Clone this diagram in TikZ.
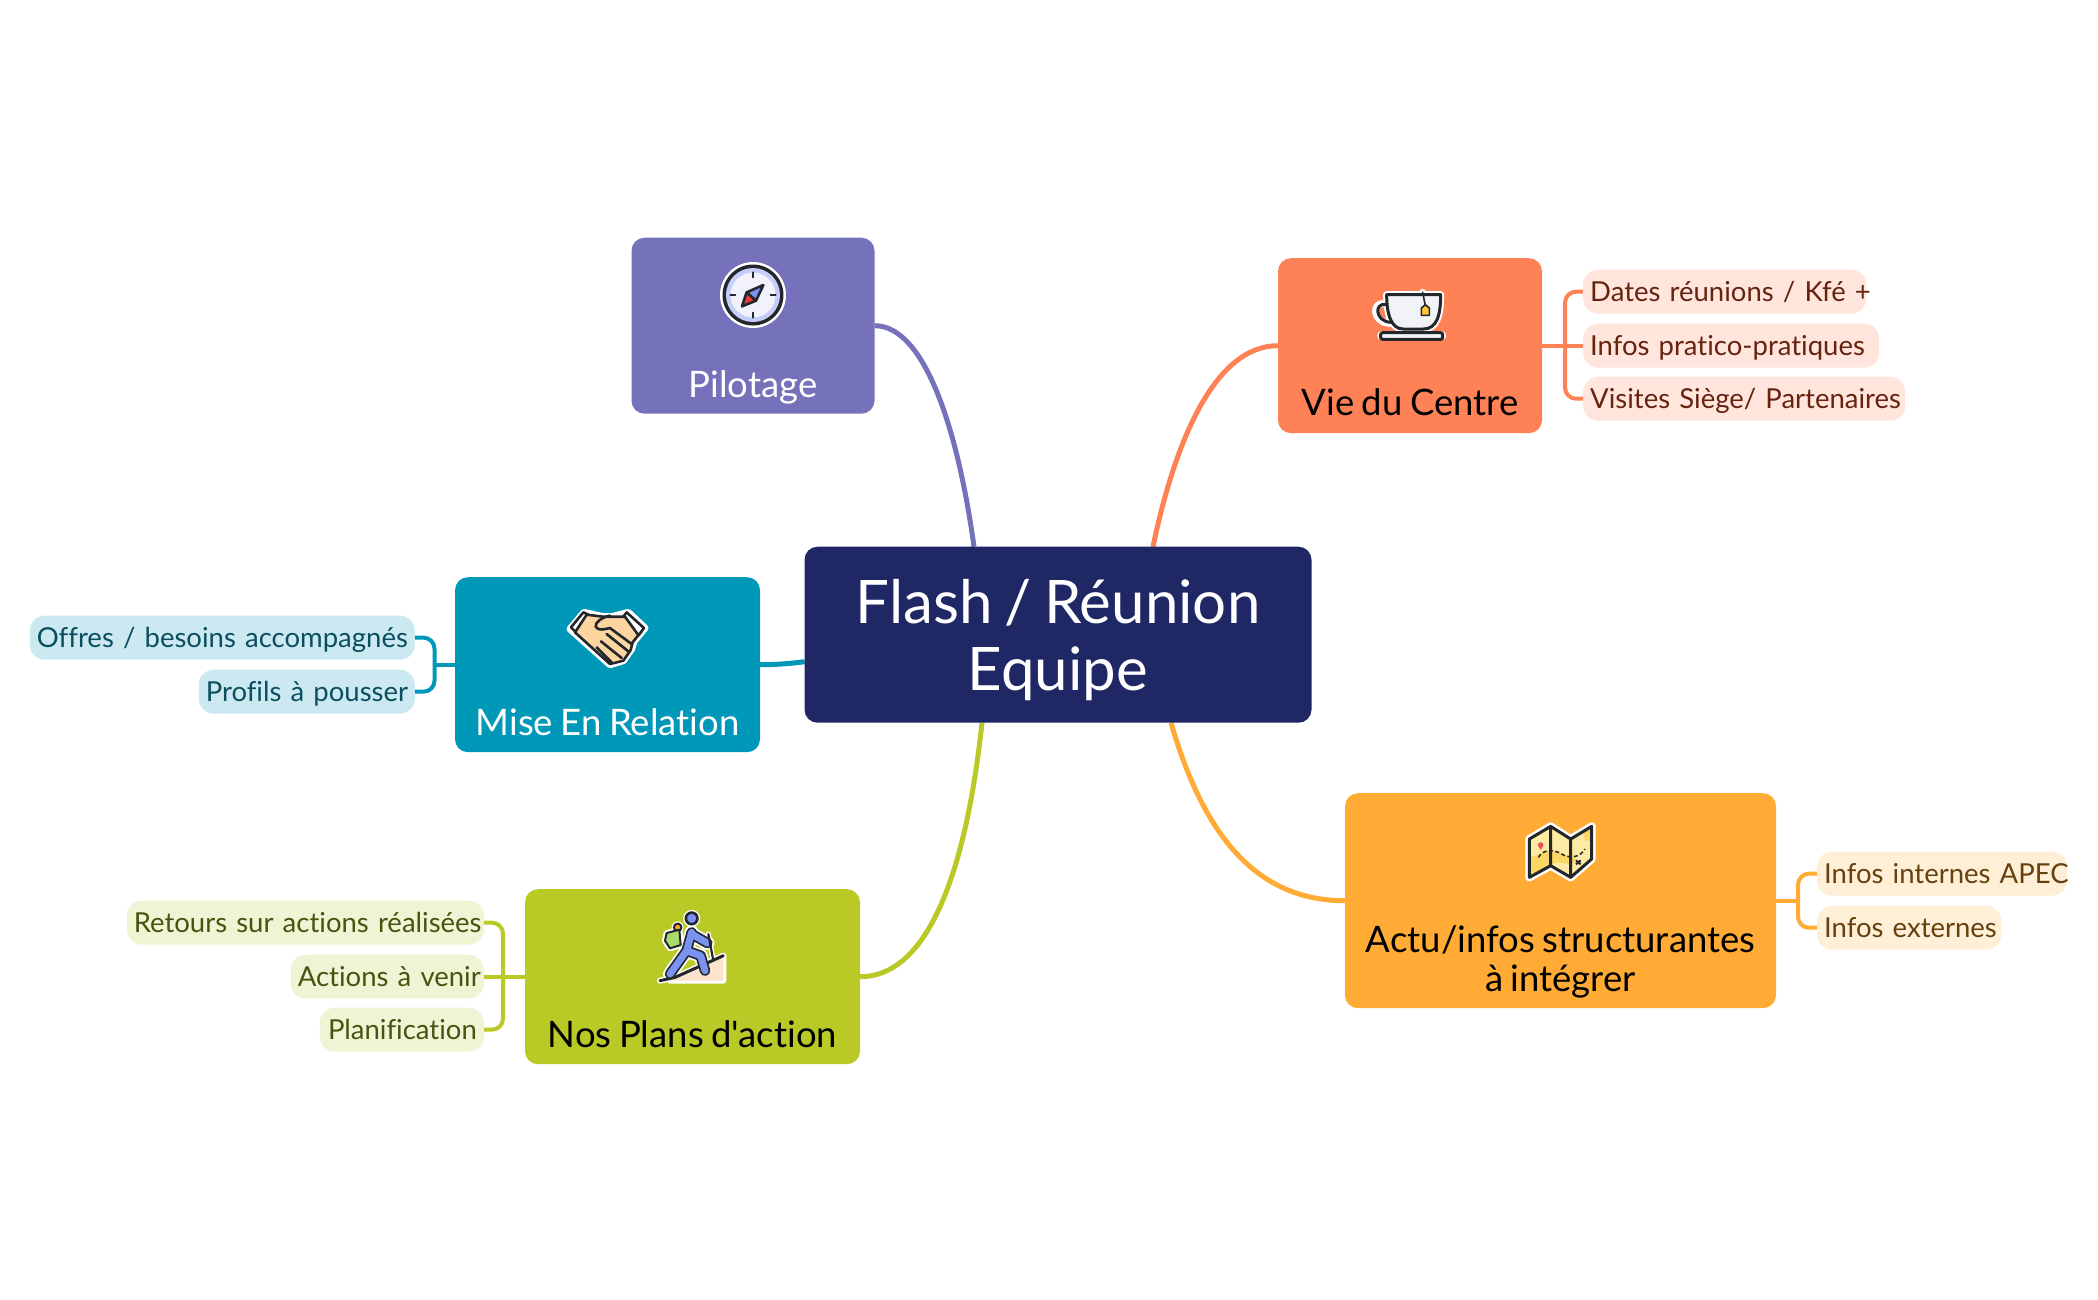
\documentclass[tikz,border=0pt]{standalone}
\usepackage{fontspec}
\setmainfont{Lato}[Ligatures={TeXOff,NoCommon},WordSpace=0.8]
\definecolor{cpil}{HTML}{7572BB}
\definecolor{cvie}{HTML}{FF8257}
\definecolor{cmis}{HTML}{0098B9}
\definecolor{cpla}{HTML}{B9CA26}
\definecolor{cact}{HTML}{FFAB36}
\definecolor{cctr}{HTML}{1F2765}
\definecolor{lvie}{HTML}{FFE5DC}
\definecolor{lmis}{HTML}{CCE9F1}
\definecolor{lpla}{HTML}{F1F4D4}
\definecolor{lact}{HTML}{FFEFD7}
\definecolor{tvie}{HTML}{662310}
\definecolor{tmis}{HTML}{0A4F60}
\definecolor{tpla}{HTML}{4A5210}
\definecolor{tact}{HTML}{66400F}
\definecolor{ink}{HTML}{23272B}
\definecolor{icring}{HTML}{C3CDF8}
\definecolor{icface}{HTML}{F2F2FD}
\definecolor{icblue}{HTML}{7B93F0}
\definecolor{icred}{HTML}{F03A3A}
\definecolor{iccup}{HTML}{F1F3F6}
\definecolor{ictag}{HTML}{FFC933}
\definecolor{icmap}{HTML}{FDEBA3}
\definecolor{icmap2}{HTML}{FBD766}
\definecolor{icpin}{HTML}{F0505A}
\definecolor{icgreen}{HTML}{A8DD6A}
\definecolor{icorange}{HTML}{FFA033}
\definecolor{icsand}{HTML}{FDE3CD}
\definecolor{icskin}{HTML}{FDD5A0}
\pgfdeclarelayer{bg}
\pgfsetlayers{bg,main}
\tikzset{
  topicbox/.style={rectangle,rounded corners=13pt,inner sep=0pt,fill=#1},
  topictext/.style={anchor=base,inner sep=0pt,align=center,font=\fontsize{36.5}{39}\selectfont},
  leafbox/.style={rectangle,rounded corners=15pt,inner xsep=7pt,inner ysep=0pt,minimum height=44pt,text height=26pt,text depth=7pt,font=\fontsize{27.5}{30}\selectfont},
  branch/.style={line width=5pt,draw=#1},
  twig/.style={line width=4pt,draw=#1,rounded corners=11pt},
  halo/.style={draw=white,line width=7pt,line join=round,line cap=round},
  inkline/.style={draw=ink,line width=2.6pt,line join=round,line cap=round},
  icon/.style={shift={#1},x=0.3333pt,y=-0.3333pt},
}
\begin{document}
\begin{tikzpicture}[x=1pt,y=-1pt]
\useasboundingbox (0,-0.7) rectangle (2098,1299.3);
% central topic
\node[topicbox=cctr,minimum width=507pt,minimum height=176pt,align=center,text=white,font=\fontsize{60}{67}\selectfont] (ctr) at (1058,634) {\rule{0pt}{58.4pt}Flash / Réunion\hspace{30pt}\\\rule[-13pt]{0pt}{13pt}Equipe};
% topic boxes
\node[topicbox=cpil,minimum width=243pt,minimum height=176pt] (pil) at (753,325) {};
\node[topicbox=cvie,minimum width=264pt,minimum height=175pt] (vie) at (1410,345) {};
\node[topicbox=cmis,minimum width=305pt,minimum height=175pt] (mis) at (607.5,664) {};
\node[topicbox=cpla,minimum width=335pt,minimum height=175pt] (pla) at (692.5,976) {};
\node[topicbox=cact,minimum width=431pt,minimum height=215pt] (act) at (1560.5,900) {};
\node[topictext,text=white] (tpil) at ([yshift=16.5pt]pil.south) {Pilotage};
\node[topictext,text=black] (tvie) at ([yshift=17.5pt]vie.south) {Vie du Centre};
\node[topictext,text=white] (tmis) at ([yshift=16.5pt]mis.south) {Mise En Relation};
\node[topictext,text=black] (tpla) at ([yshift=16.5pt]pla.south) {Nos Plans d'action};
\node[topictext,text=black] (tact) at ([yshift=16.5pt]act.south) {Actu/infos structurantes\\à intégrer};
% leaves
\node[leafbox,fill=lvie,text=tvie,anchor=west,text width=269pt,align=left] (v1) at (1583,291) {\mbox{Dates réunions / Kfé +}};
\node[leafbox,fill=lvie,text=tvie,anchor=west,text width=282pt,align=left] (v2) at (1583,345) {\mbox{Infos pratico-pratiques}};
\node[leafbox,fill=lvie,text=tvie,anchor=west,text width=308pt,align=left] (v3) at (1583,398) {\mbox{Visites Siège/ Partenaires}};
\node[leafbox,fill=lmis,text=tmis,anchor=east,text width=371pt,align=right] (m1) at (415,637) {\mbox{Offres / besoins accompagnés}};
\node[leafbox,fill=lmis,text=tmis,anchor=east,text width=202pt,align=right] (m2) at (415,691) {\mbox{Profils à pousser}};
\node[leafbox,fill=lpla,text=tpla,anchor=east,text width=343pt,align=right] (p1) at (484,922) {\mbox{Retours sur actions réalisées}};
\node[leafbox,fill=lpla,text=tpla,anchor=east,text width=179pt,align=right] (p2) at (484,976) {\mbox{Actions à venir}};
\node[leafbox,fill=lpla,text=tpla,anchor=east,text width=150pt,align=right] (p3) at (484,1029) {\mbox{Planification}};
\node[leafbox,fill=lact,text=tact,anchor=west,text width=236pt,align=left] (a1) at (1817,873) {\mbox{Infos internes APEC}};
\node[leafbox,fill=lact,text=tact,anchor=west,text width=170pt,align=left] (a2) at (1817,927) {\mbox{Infos externes}};
% connectors
\coordinate (cpilend) at (974,546);
\coordinate (cvieend) at (1153,546);
\coordinate (cmisend) at (804.6,661);
\coordinate (cplaend) at (982,722);
\coordinate (cactend) at (1171,722);
\coordinate (xvie) at (1565,0);
\coordinate (xmis) at (434.5,0);
\coordinate (xpla) at (503,0);
\coordinate (xact) at (1798,0);
\begin{pgfonlayer}{bg}
\draw[branch=cpil] (pil.east) .. controls (925,325) and (958,430) .. (cpilend);
\draw[branch=cvie] (vie.west) .. controls (1215,345) and (1175,440) .. (cvieend);
\draw[branch=cmis] (mis.east) .. controls (775,664) and (790,663) .. (cmisend);
\draw[branch=cpla] (pla.east) .. controls (925,976) and (965,880) .. (cplaend);
\draw[branch=cact] (act.west) .. controls (1260,900) and (1205,840) .. (cactend);
\draw[twig=cvie] (v1.west) -- (xvie |- v1.west) -- (xvie |- v3.west) -- (v3.west);
\draw[twig=cvie] (vie.east) -- (v2.west);
\draw[twig=cmis] (m1.east) -- (xmis |- m1.east) -- (xmis |- m2.east) -- (m2.east);
\draw[twig=cmis] (mis.west) -- (xmis |- mis.west);
\draw[twig=cpla] (p1.east) -- (xpla |- p1.east) -- (xpla |- p3.east) -- (p3.east);
\draw[twig=cpla] (pla.west) -- (p2.east);
\draw[twig=cact] (a1.west) -- (xact |- a1.west) -- (xact |- a2.west) -- (a2.west);
\draw[twig=cact] (act.east) -- (xact |- act.east);
\end{pgfonlayer}
% compass icon
\begin{scope}[icon={(620,220)}]
\fill[white] (399,223) circle[radius=33pt];
\fill[ink] (399,223) circle[radius=30.5pt];
\fill[icring] (399,223) circle[radius=27pt];
\fill[icface] (399,223) circle[radius=22.5pt];
\draw[inkline,line width=2pt] (399,155)--(399,170) (399,276)--(399,291) (331,223)--(346,223) (452,223)--(467,223);
\fill[icblue] (430,193)--(380,215)--(408,240)--cycle;
\fill[icred] (366,257)--(380,215)--(408,240)--cycle;
\draw[inkline] (430,193)--(380,215)--(366,257)--(408,240)--cycle (380,215)--(408,240);
\end{scope}
% teacup icon
\begin{scope}[icon={(1370,280)}]
\draw[halo] (45,70) .. controls (5,60) and (5,125) .. (60,128);
\draw[halo] (158,35)--(158,42) (50,42)--(212,42) .. controls (212,105) and (200,145) .. (160,145) -- (100,145) .. controls (65,145) and (50,105) .. (50,42)--cycle;
\draw[halo,line width=9pt] (35,165)--(215,165);
\draw[inkline,line width=3pt] (47,72) .. controls (12,65) and (15,122) .. (62,125);
\filldraw[inkline,fill=iccup,line width=3pt] (50,42)--(212,42) .. controls (212,105) and (200,145) .. (160,145) -- (100,145) .. controls (65,145) and (50,105) .. (50,42)--cycle;
\filldraw[inkline,fill=iccup,line width=3pt,rounded corners=2pt] (32,156)--(218,156)--(218,176)--(32,176)--cycle;
\draw[inkline,line width=1.6pt] (158,35)--(166,75);
\filldraw[inkline,fill=ictag,line width=1.6pt] (166,72)--(178,82)--(178,104)--(154,104)--(154,82)--cycle;
\end{scope}
% handshake icon
\begin{scope}[icon={(560,600)}]
\draw[halo,fill=white] (30,85)--(72,35)--(130,48)--(155,48)--(205,35)--(255,82)--(222,122)--(215,145)--(190,180)--(150,192)--cycle;
\filldraw[inkline,fill=white] (33,80)--(70,35)--(85,42)--(48,95)--cycle;
\filldraw[inkline,fill=white] (200,35)--(252,82)--(235,105)--(190,48)--cycle;
\filldraw[inkline,fill=icskin] (45,95)--(80,42)--(130,48)--(155,48)--(195,48)--(235,103)--(218,125)--(212,148)--(190,180)--(150,190)--cycle;
\draw[inkline] (150,45) .. controls (125,50) and (105,65) .. (107,78) .. controls (115,92) and (135,85) .. (150,82) -- (215,130);
\draw[inkline] (140,100)--(205,152) (123,122)--(185,172) (110,140)--(155,185);
\end{scope}
% map icon
\begin{scope}[icon={(1520,815)}]
\draw[halo,line width=8pt] (28,70)--(92,32)--(152,70)--(215,32)--(215,130)--(152,185)--(92,150)--(28,185)--cycle;
\fill[icmap] (28,70)--(92,32)--(152,70)--(215,32)--(215,130)--(152,185)--(92,150)--(28,185)--cycle;
\fill[icmap2] (28,125) .. controls (60,120) and (70,100) .. (100,105) .. controls (130,120) and (160,115) .. (170,135) .. controls (150,160) and (110,125) .. (92,150) -- (28,185) -- cycle;
\fill[icmap2] (190,50)--(215,40)--(215,75)--(195,75)--cycle;
\fill[icpin] (62,88) circle[radius=2.8pt];
\fill[icpin] (56,92)--(68,92)--(62,103)--cycle;
\draw[ink,line width=1.5pt,dash pattern=on 4pt off 2.5pt] (55,125) .. controls (70,100) and (100,100) .. (125,115) .. controls (150,130) and (180,125) .. (195,100);
\draw[ink,line width=2pt] (168,134)--(182,146) (182,134)--(168,146);
\draw[inkline,line width=3pt] (28,70)--(92,32)--(152,70)--(215,32)--(215,130)--(152,185)--(92,150)--(28,185)--cycle (92,32)--(92,150) (152,70)--(152,185);
\end{scope}
% hiker icon
\begin{scope}[icon={(650,905)}]
\fill[white] (125,38) circle[radius=8.5pt];
\fill[white] (83,65) circle[radius=6pt];
\draw[halo,line width=14pt] (125,80)--(110,135)--(60,205) (110,135)--(152,150)--(165,195) (125,85)--(172,112);
\draw[halo,line width=6pt] (50,82)--(88,72)--(92,118)--(60,128)--(45,105)--cycle;
\draw[halo,line width=5pt] (175,85)--(190,165);
\draw[halo,line width=6pt] (30,225)--(75,215)--(220,150)--(220,225)--(60,225);
\fill[icsand] (220,150)--(220,225)--(60,225)--(75,215)--cycle;
\draw[ink,line width=3pt,line cap=round] (30,225)--(75,215)--(220,150);
\filldraw[inkline,fill=icorange,line width=2pt] (83,65) circle[radius=3.8pt];
\filldraw[inkline,fill=icgreen,line width=2pt] (50,82)--(88,72)--(92,118)--(60,128)--(45,105)--cycle;
\draw[draw=ink,line width=10.5pt,line cap=round,line join=round] (125,80)--(110,135)--(60,205) (110,135)--(152,150)--(165,195) (125,85)--(172,112);
\draw[draw=icblue,line width=7pt,line cap=round,line join=round] (125,80)--(110,135)--(60,205) (110,135)--(152,150)--(165,195) (125,85)--(172,112);
\filldraw[inkline,fill=icblue] (125,38) circle[radius=5.8pt];
\draw[inkline,line width=2.2pt] (175,85)--(190,165);
\end{scope}
\end{tikzpicture}
\end{document}
